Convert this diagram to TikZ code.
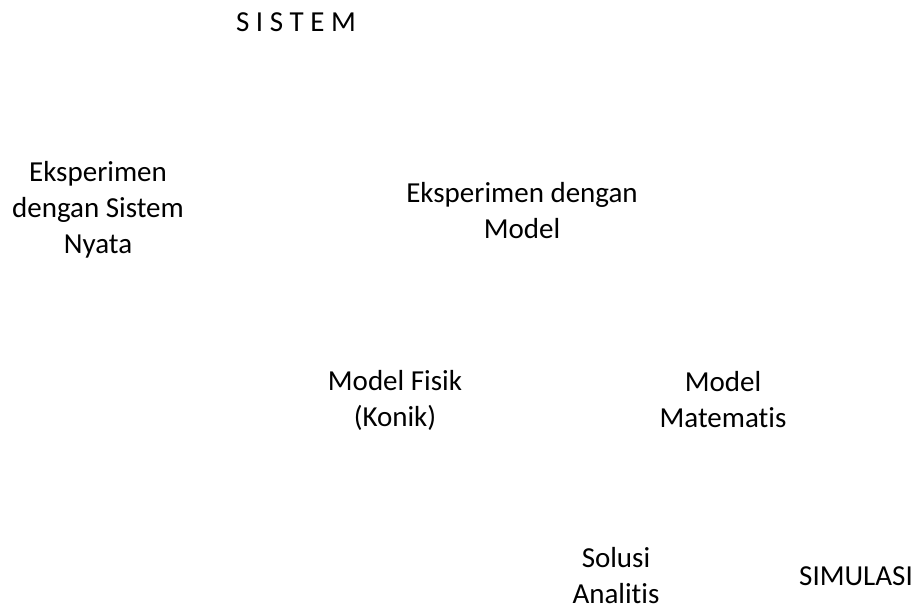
\documentclass[tikz,border=0pt]{standalone}
\usepackage{fontspec}
\setmainfont[Ligatures=NoCommon]{Carlito}
\begin{document}
\begin{tikzpicture}[x=1pt,y=-1pt,
  lbl/.style={align=center,inner sep=0pt,font=\fontsize{29}{36}\selectfont}]
\useasboundingbox (0,0) rectangle (919,604);
\node[lbl] (sistem) at (296,22) {S I S T E M};
\node[lbl] (nyata) at (98,210) {Eksperimen\\dengan Sistem\\Nyata};
\node[lbl] (model) at (522,211) {Eksperimen dengan\\Model};
\node[lbl] (fisik) at (395,400) {Model Fisik\\(Konik)};
\node[lbl] (mat) at (723,400) {Model\\Matematis};
\node[lbl] (solusi) at (616,576) {Solusi\\Analitis};
\node[lbl] (sim) at (856,576) {SIMULASI};
\end{tikzpicture}
\end{document}
